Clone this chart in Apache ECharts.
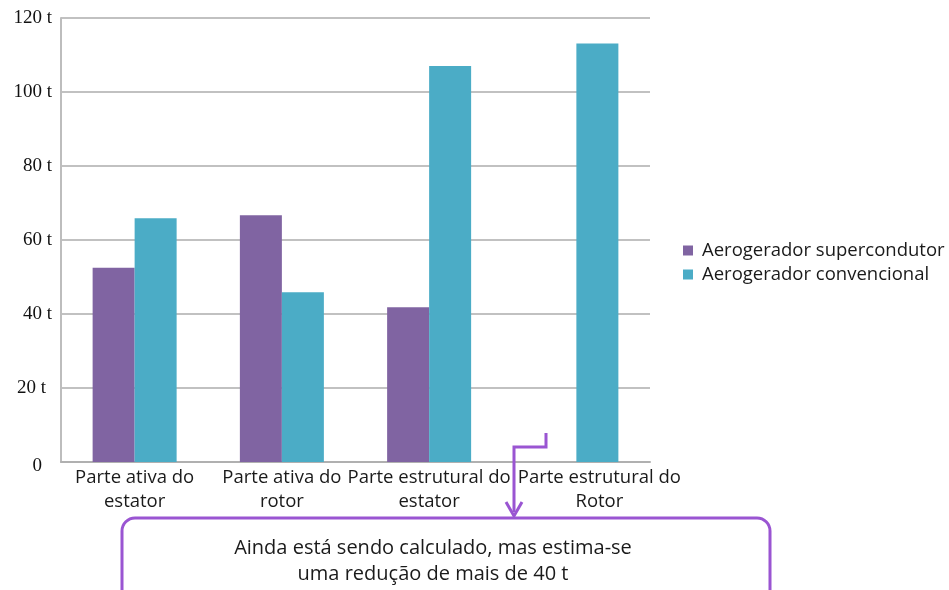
<!DOCTYPE html>
<html>
<head>
<meta charset="utf-8">
<script src="https://cdn.jsdelivr.net/npm/echarts@6/dist/echarts.min.js"></script>
<style>
  html, body { margin: 0; padding: 0; background: #ffffff; }
  #chart { width: 949px; height: 590px; }
</style>
</head>
<body>
<div id="chart"></div>
<script>
// Categories of the generator parts
const categories = [
  'Parte ativa do\nestator',
  'Parte ativa do\nrotor',
  'Parte estrutural do\nestator',
  'Parte estrutural do\nRotor'
];
// Mass in tonnes per part
const supercondutor = [52.5, 66.7, 41.8, null];
const convencional = [65.9, 45.9, 107.0, 113.1];
const seriesNames = ['Aerogerador supercondutor', 'Aerogerador convencional'];
// Y-axis tick labels
const yTickValues = [0, 20, 40, 60, 80, 100, 120];
const yTickLabels = ['0', '20 t', '40 t', '60 t', '80 t', '100 t', '120 t'];

const noteLines = ['Ainda está sendo calculado, mas estima-se', 'uma redução de mais de 40 t'];

const PURPLE = '#8064a2';
const CYAN = '#4bacc6';
const NOTE = '#9a55d2';
const SANS = '"Open Sans", "Noto Sans", sans-serif';
const SERIF = '"Liberation Serif", "DejaVu Serif", serif';

const chart = echarts.init(document.getElementById('chart'), null, { renderer: 'canvas' });

const tickText = {};
yTickValues.forEach((v, i) => { tickText[v] = yTickLabels[i]; });

// every tick label goes through a rich style so the font size is explicit
const tickRich = {
  n: { fontFamily: SERIF, fontSize: 19, color: '#111111' },
  w: { fontFamily: SERIF, fontSize: 19, color: '#111111', padding: [0, 6, 0, 0] },
  z: { fontFamily: SERIF, fontSize: 19, color: '#111111', padding: [8, 10, 0, 0] }
};

chart.setOption({
  animation: false,
  backgroundColor: '#ffffff',
  grid: { left: 61, right: 299, top: 18, bottom: 128, containLabel: false },
  legend: {
    orient: 'vertical',
    left: 678,
    top: 236,
    itemWidth: 10,
    itemHeight: 10,
    itemGap: 5,
    icon: 'rect',
    data: seriesNames,
    textStyle: { fontFamily: SANS, fontSize: 18.5, color: '#1a1a1a', padding: [0, 0, 0, 4] }
  },
  xAxis: {
    type: 'category',
    data: categories.map((c, i) => i === 3
      ? { value: c, textStyle: { padding: [0, 0, 0, 46] } }
      : c),
    axisLine: { lineStyle: { color: '#b0b0b0', width: 2 } },
    axisTick: { show: false },
    axisLabel: {
      interval: 0,
      fontFamily: SANS,
      fontSize: 18.5,
      lineHeight: 24,
      color: '#1a1a1a',
      margin: 4
    }
  },
  yAxis: {
    type: 'value',
    min: 0,
    max: 120,
    interval: 20,
    axisLine: { show: true, lineStyle: { color: '#bdbdbd', width: 2 } },
    axisTick: { show: false },
    splitLine: { lineStyle: { color: '#adadad', width: 1.5 } },
    axisLabel: {
      margin: 9,
      fontFamily: SERIF,
      fontSize: 19,
      color: '#111111',
      formatter: (v) => {
        const key = v === 0 ? 'z' : (v === 20 ? 'w' : 'n');
        return '{' + key + '|' + tickText[v] + '}';
      },
      rich: tickRich
    }
  },
  series: [
    {
      name: seriesNames[0],
      type: 'bar',
      data: supercondutor,
      barWidth: 42,
      barGap: '0%',
      itemStyle: { color: PURPLE }
    },
    {
      name: seriesNames[1],
      type: 'bar',
      data: convencional,
      barWidth: 42,
      barGap: '0%',
      itemStyle: { color: CYAN }
    }
  ],
  graphic: [
    {
      type: 'polyline',
      shape: { points: [[546, 433], [546, 447], [514, 447], [514, 512]] },
      style: { stroke: NOTE, lineWidth: 3, fill: null },
      z: 10
    },
    {
      type: 'polyline',
      shape: { points: [[506, 502], [514, 516], [522, 502]] },
      style: { stroke: NOTE, lineWidth: 3, fill: null },
      z: 10
    },
    {
      type: 'rect',
      shape: { x: 122, y: 518, width: 648, height: 90, r: 13 },
      style: { stroke: NOTE, lineWidth: 3, fill: '#ffffff' },
      z: 9
    },
    {
      type: 'text',
      x: 433,
      y: 535,
      style: {
        text: noteLines.join('\n'),
        align: 'center',
        verticalAlign: 'top',
        fontFamily: SANS,
        fontSize: 20,
        lineHeight: 26,
        fill: '#1a1a1a'
      },
      z: 11
    }
  ]
});
</script>
</body>
</html>
